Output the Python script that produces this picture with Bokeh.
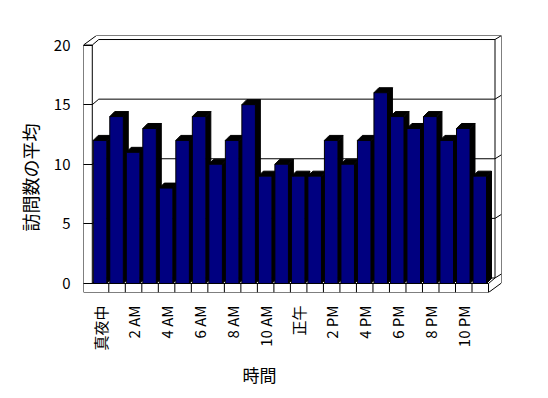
import math
from bokeh.plotting import figure
from bokeh.models import Range1d, FixedTicker, Title, ColumnDataSource
from bokeh.embed import file_html
from bokeh.resources import INLINE

# ---- data ----
hours = ["真夜中", "1 AM", "2 AM", "3 AM", "4 AM", "5 AM", "6 AM", "7 AM",
         "8 AM", "9 AM", "10 AM", "11 AM", "正午", "1 PM", "2 PM", "3 PM",
         "4 PM", "5 PM", "6 PM", "7 PM", "8 PM", "9 PM", "10 PM", "11 PM"]
visits = [12, 14, 11, 13, 8, 12, 14, 10, 12, 15, 9, 10,
          9, 9, 12, 10, 12, 16, 14, 13, 14, 12, 13, 9]
y_ticks = [0, 5, 10, 15, 20]
y_title = "訪問数の平均"
x_title = "時間"

# ---- 3D style constants (data units) ----
N = len(hours)
YMAX = 20
WALL = 0.532          # left wall slab thickness (categories)
FLOOR = 0.756         # floor slab thickness (value units)
D1X, D1Y = 0.393, 0.462   # depth to back wall inner face
D2X, D2Y = 0.786, 0.80    # depth to back wall outer face
BDX, BDY = 0.30, 0.42     # bar depth
BL, BR = -0.44, 0.38      # bar front face relative to category centre

FONT = "Noto Sans CJK JP"
NAVY = "#000080"

xl = -0.5 - WALL
xr = N - 0.5
fl = -FLOOR

p = figure(frame_width=418, frame_height=257,
           x_range=Range1d(xl, xr + D2X), y_range=Range1d(fl, YMAX + D2Y),
           output_backend="svg", toolbar_location=None,
           min_border_left=83, min_border_top=35, min_border_right=36,
           min_border_bottom=95, background_fill_color="white",
           border_fill_color="white")
p.outline_line_color = None
p.grid.visible = False

# ---- structural lines ----
x0s, y0s, x1s, y1s = [], [], [], []
def seg(a, b, c, d):
    x0s.append(a); y0s.append(b); x1s.append(c); y1s.append(d)

# left wall
seg(xl, YMAX, xl, fl)
seg(xl, YMAX, -0.5, YMAX)
seg(-0.5, YMAX, -0.5, 0)
seg(xl, YMAX, xl + D2X, YMAX + D2Y)
# back wall
seg(xl + D2X, YMAX + D2Y, xr + D2X, YMAX + D2Y)
for v in y_ticks:
    seg(-0.5 + D1X, v + D1Y, xr + D1X, v + D1Y)
    seg(-0.5, v, -0.5 + D1X, v + D1Y)
    seg(xr + D1X, v + D1Y, xr + D2X, v + D2Y)
seg(xr + D1X, D1Y, xr + D1X, YMAX + D1Y)
seg(xr + D2X, fl + D2Y, xr + D2X, YMAX + D2Y)
# floor
seg(xl, fl, xr, fl)
seg(-0.5, 0, xr, 0)
for k in range(N):
    seg(k + 0.5, 0, k + 0.5, fl)
seg(xr, fl, xr + D2X, fl + D2Y)
seg(xr, 0, xr + D1X, D1Y)

p.segment(x0=x0s, y0=y0s, x1=x1s, y1=y1s, line_color="black", line_width=1)

# ---- bars ----
xs = list(range(N))
side_x, side_y, top_x, top_y, lefts, rights = [], [], [], [], [], []
for i, v in zip(xs, visits):
    l, r = i + BL, i + BR
    lefts.append(l); rights.append(r)
    side_x.append([r, r + BDX, r + BDX, r])
    side_y.append([0, BDY, v + BDY, v])
    top_x.append([l, r, r + BDX, l + BDX])
    top_y.append([v, v, v + BDY, v + BDY])

p.patches(side_x, side_y, fill_color="black", line_color="black", line_width=1)
p.patches(top_x, top_y, fill_color="black", line_color="black", line_width=1)
src = ColumnDataSource(dict(left=lefts, right=rights, v=visits))
p.quad(left="left", right="right", top="v", bottom=0, source=src,
       fill_color=NAVY, line_color="black", line_width=1)

# ---- axes ----
ya = p.yaxis[0]
ya.ticker = FixedTicker(ticks=y_ticks)
ya.axis_line_color = None
ya.major_tick_in = 9
ya.major_tick_out = 0
ya.minor_tick_line_color = None
ya.major_tick_line_color = "black"
ya.major_label_standoff = 13
ya.major_label_text_font = FONT
ya.major_label_text_font_size = "15px"
ya.major_label_text_color = "black"

xa = p.xaxis[0]
xa.ticker = FixedTicker(ticks=list(range(0, N, 2)))
xa.major_label_overrides = {i: hours[i] for i in range(0, N, 2)}
xa.axis_line_color = None
xa.major_tick_in = 0
xa.major_tick_out = 0
xa.minor_tick_line_color = None
xa.major_label_orientation = math.pi / 2
xa.major_label_standoff = 13
xa.major_label_text_font = FONT
xa.major_label_text_font_size = "15px"
xa.major_label_text_color = "black"

# axis titles
p.add_layout(Title(text=x_title, align="left", offset=159, standoff=12,
                   text_font=FONT, text_font_size="17px",
                   text_font_style="normal", text_color="black"), "below")
p.add_layout(Title(text=y_title, align="left", offset=61, standoff=16,
                   text_font=FONT, text_font_size="18px",
                   text_font_style="normal", text_color="black"), "left")

open("out.html", "w").write(file_html(p, INLINE))
